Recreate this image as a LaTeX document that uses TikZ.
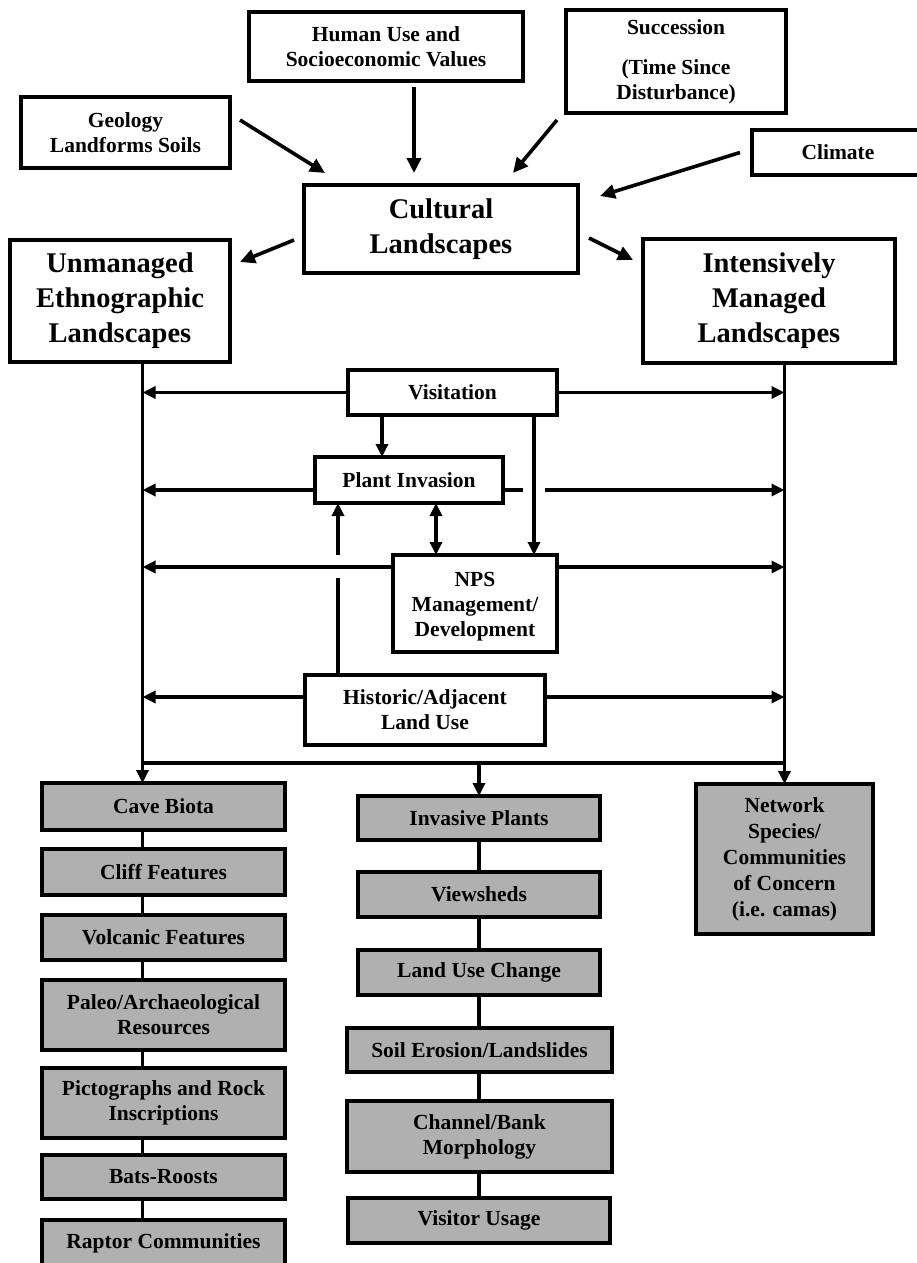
\documentclass[tikz,border=0pt]{standalone}
\usepackage{fontspec}
\setmainfont{Liberation Serif}
\usetikzlibrary{arrows.meta,calc}
\definecolor{boxgray}{RGB}{176,176,176}
\begin{document}
\begin{tikzpicture}[x=1pt,y=-1pt,
  box/.style={draw=black, line width=4pt, fill=white, inner sep=0pt, outer sep=0pt,
    align=center, font=\fontsize{21.5}{25}\selectfont\bfseries},
  bigbox/.style={box, font=\fontsize{28.5}{35}\selectfont\bfseries},
  graybox/.style={box, fill=boxgray},
  link/.style={line width=3.6pt, draw=black},
  arr/.style={link, -{Triangle[length=13pt,width=12pt]}},
  bigarr/.style={link, -{Triangle[length=15pt,width=14pt]}},
  arrboth/.style={link, {Triangle[length=13pt,width=12pt]}-{Triangle[length=13pt,width=12pt]}},
]
\clip (0,0) rectangle (917,1263);
\fill[white] (0,0) rectangle (917,1263);

% ---- drivers ----
\node[box, minimum width=274, minimum height=69] (human) at (386,46.5) {Human Use and\\Socioeconomic Values};
\node[box, minimum width=220, minimum height=103] (succ) at (676,61.5) {Succession\\[15pt](Time Since\\Disturbance)};
\node[box, minimum width=209, minimum height=71] (geo) at (125.5,132.5) {Geology\\Landforms Soils};
\node[box, minimum width=172, minimum height=45] (climate) at (838,152.5) {Climate};

% ---- landscapes ----
\node[bigbox, minimum width=274, minimum height=88] (cult) at (441,229) {Cultural\\Landscapes};
\node[bigbox, minimum width=220, minimum height=122] (unman) at (120,301) {Unmanaged\\Ethnographic\\Landscapes};
\node[bigbox, minimum width=252, minimum height=124] (inten) at (769,301) {Intensively\\Managed\\Landscapes};

% ---- stressors ----
\node[box, minimum width=209, minimum height=45] (visit) at (452.5,392.5) {Visitation};
\node[box, minimum width=188, minimum height=46] (plant) at (409,480) {Plant Invasion};
\node[box, minimum width=164, minimum height=97] (nps) at (475,603.5) {\rule{0pt}{21pt}NPS\\Management/\\Development};
\node[box, minimum width=240, minimum height=70] (hist) at (425,710) {Historic/Adjacent\\Land Use};

% ---- resources, left column ----
\node[graybox, minimum width=243, minimum height=47] (cave) at (163.5,806.5) {Cave Biota};
\node[graybox, minimum width=243, minimum height=46] (cliff) at (163.5,872) {Cliff Features};
\node[graybox, minimum width=243, minimum height=45] (volc) at (163.5,937.5) {Volcanic Features};
\node[graybox, minimum width=243, minimum height=70] (paleo) at (163.5,1015) {Paleo/Archaeological\\Resources};
\node[graybox, minimum width=243, minimum height=70] (picto) at (163.5,1103) {Pictographs and Rock\\Inscriptions};
\node[graybox, minimum width=243, minimum height=44] (bats) at (163.5,1177) {Bats-Roosts};
\node[graybox, minimum width=243, minimum height=46] (raptor) at (163.5,1243) {Raptor Communities};

% ---- resources, middle column ----
\node[graybox, minimum width=242, minimum height=44] (inv) at (479,818) {Invasive Plants};
\node[graybox, minimum width=242, minimum height=45] (view) at (479,894.5) {Viewsheds};
\node[graybox, minimum width=242, minimum height=45] (luc) at (479,972.5) {Land Use Change};
\node[graybox, minimum width=265, minimum height=44] (soil) at (479.5,1050) {Soil Erosion/Landslides};
\node[graybox, minimum width=265, minimum height=71] (chan) at (479.5,1136.5) {Channel/Bank\\Morphology};
\node[graybox, minimum width=262, minimum height=45] (vu) at (479,1220.5) {Visitor Usage};

% ---- resources, right column ----
\node[graybox, minimum width=177, minimum height=150, font=\fontsize{21.5}{26}\selectfont\bfseries]
  (network) at (784.5,859) {Network\\Species/\\Communities\\of Concern\\(i.e. camas)};

% ---- drivers into cultural landscapes ----
\draw[bigarr] ($(geo.east)+(10,-12.5)$) -- ($(cult.north west)+(21,-12)$);
\draw[bigarr] ($(human.south)+(28,6)$) -- ($(cult.north)+(-27,-12)$);
\draw[bigarr] ($(succ.south west)+(-9,7)$) -- ($(cult.north east)+(-65,-12)$);
\draw[bigarr] ($(climate.west)+(-12,0)$) -- ($(cult.north east)+(22,11)$);
\draw[bigarr] ($(cult.west)+(-10,11)$) -- ($(unman.north east)+(10,22)$);
\draw[bigarr] ($(cult.east)+(11,9)$) -- ($(inten.north west)+(-10,21)$);

% ---- trunk lines ----
\coordinate (ltop) at ($(unman.south)+(22.5,0)$);
\coordinate (rtop) at (network.north |- inten.south);
\coordinate (bus) at ($(hist.south)+(0,18)$);
\draw[arr] (ltop) -- (ltop |- cave.north);
\draw[arr] (rtop) -- (network.north);
\draw[link] (ltop |- bus) -- (rtop |- bus);
\draw[arr] (inv.north |- bus) -- (inv.north);

% ---- stressors to both landscape types ----
\draw[arr] (visit.west) -- (visit.west -| ltop);
\draw[arr] (visit.east) -- (visit.east -| rtop);

\coordinate (pl) at ($(plant.west)+(0,10)$);
\coordinate (pr) at ($(plant.east)+(0,10)$);
\draw[arr] (pl) -- (pl -| ltop);
\draw[link] (pr) -- ($(pr)+(20,0)$);
\draw[arr] ($(pr)+(42,0)$) -- (pr -| rtop);

\coordinate (nl) at ($(nps.north west)+(0,12)$);
\coordinate (nr) at ($(nps.north east)+(0,12)$);
\draw[arr] (nl) -- (nl -| ltop);
\draw[arr] (nr) -- (nr -| rtop);

\coordinate (hl) at ($(hist.west)+(0,-13)$);
\coordinate (hr) at ($(hist.east)+(0,-13)$);
\draw[arr] (hl) -- (hl -| ltop);
\draw[arr] (hr) -- (hr -| rtop);

% ---- links among stressors ----
\coordinate (vp) at ($(plant.north)+(-27,0)$);
\draw[arr] (vp |- visit.south) -- (vp);
\coordinate (vn) at ($(nps.north)+(59,0)$);
\draw[arr] (vn |- visit.south) -- (vn);
\coordinate (pn) at ($(plant.south)+(27,0)$);
\draw[arrboth] (pn) -- (pn |- nps.north);
\coordinate (hp) at ($(plant.south)+(-71,0)$);
\draw[link] (hp |- hist.north) -- ($(hp |- nl)+(0,11)$);
\draw[arr] ($(hp |- nl)+(0,-12)$) -- (hp);

% ---- resource chains ----
\foreach \a/\b in {cave/cliff, cliff/volc, volc/paleo, paleo/picto, picto/bats, bats/raptor}
  \draw[link] (ltop |- \a.south) -- (ltop |- \b.north);
\foreach \a/\b in {inv/view, view/luc, luc/soil, soil/chan, chan/vu}
  \draw[link] (inv.center |- \a.south) -- (inv.center |- \b.north);
\end{tikzpicture}
\end{document}
